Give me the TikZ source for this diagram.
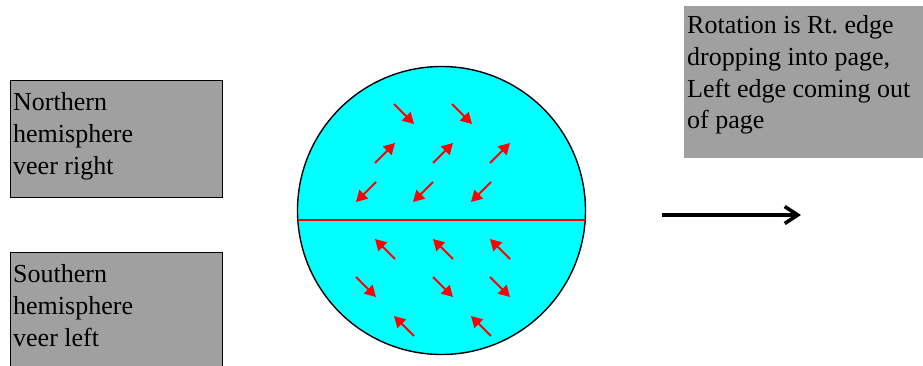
\documentclass[tikz,border=0pt]{standalone}
\usepackage{fontspec}
\setmainfont{Liberation Serif}
\usepackage{tikz}
\usetikzlibrary{arrows.meta}
\usepackage{xcolor}
\definecolor{boxgray}{RGB}{160,160,160}
\definecolor{seacyan}{RGB}{0,255,255}
\definecolor{flowred}{RGB}{255,0,0}
\frenchspacing

\begin{document}
\begin{tikzpicture}[x=1pt,y=-1pt,
  infobox/.style={draw=black,line width=1.4pt,fill=boxgray,anchor=north west,inner sep=0pt},
  infotext/.style={anchor=north west,align=left,inner sep=0pt,font=\fontsize{26}{31.8}\selectfont},
  flow/.style={flowred,line width=1.9pt,-{Triangle[length=11pt,width=12pt]}},
  spin/.style={black,line width=3.6pt,-{Straight Barb[length=13pt,width=17pt,line width=3.6pt]}}]
  \useasboundingbox (0,0) rectangle (923,366);
  % Hemisphere notes
  \node[infobox,minimum width=212pt,minimum height=117pt] (north) at (10,80) {};
  \node[infotext] (northtext) at (13,92.2) {Northern\\hemisphere\\veer right};
  \node[infobox,minimum width=212pt,minimum height=116pt] (south) at (10,252) {};
  \node[infotext] (southtext) at (13,264.2) {Southern\\hemisphere\\veer left};
  \node[infobox,draw=none,minimum width=240pt,minimum height=152pt] (rotation) at (683,5) {};
  \node[infotext] (rotationtext) at (687,15.2)
    {Rotation is Rt. edge\\dropping into page,\\Left edge coming out\\of page};
  % Globe
  \draw[fill=seacyan,line width=1.4pt] (441.5,210.5) circle (144);
  \draw[flowred,line width=1.4pt] (298,220) -- (585.5,220);
  % Deflected flows
  \foreach \xa/\ya/\xb/\yb in {394/104/414/124,452/104/472/124,
      375/163/395/143,433/163/453/143,490/163/510/143,
      376/182/356/202,433/182/413/202,491/182/471/202,
      395/259/375/239,453/259/433/239,510/259/490/239,
      356/277/376/297,433/277/453/297,490/277/510/297,
      414/336/394/316,491/336/471/316}{
    \draw[flow] (\xa,\ya) -- (\xb,\yb);
  }
  % Rotation direction
  \coordinate (spinstart) at (662,215);
  \coordinate (spinend) at (801,215);
  \draw[spin] (spinstart) -- (spinend);
\end{tikzpicture}
\end{document}
